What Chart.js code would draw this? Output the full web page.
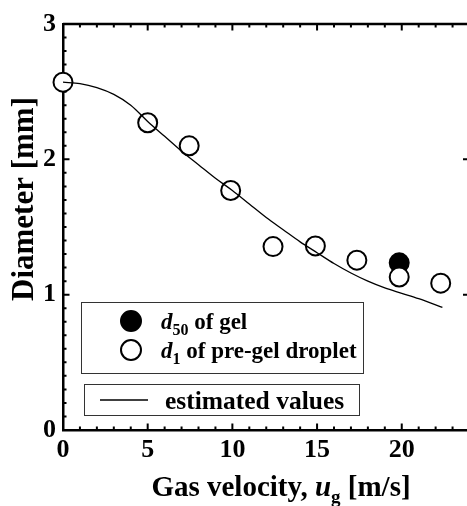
<!DOCTYPE html>
<html lang="en">
<head>
<meta charset="UTF-8">
<title>Diameter vs gas velocity</title>
<script src="https://cdn.jsdelivr.net/npm/chart.js"></script>
<style>
    html, body { margin: 0; padding: 0; overflow: hidden; background: #fff; }
    #wrap { width: 472px; height: 506px; }
</style>
</head>
<body>
<div id="wrap"><canvas id="chart" width="472" height="506"></canvas></div>
<script>
// measured data
const gelVelocity = [19.85];
const gelD50 = [1.235];

const dropVelocity = [0, 5.0, 7.45, 9.9, 12.4, 14.9, 17.35, 19.85, 22.3];
const dropD1 = [2.57, 2.27, 2.10, 1.77, 1.355, 1.36, 1.255, 1.13, 1.085];

// estimated curve
const estVelocity = [0, 1, 2, 3, 4, 5, 6, 7, 8, 9, 10, 11, 12, 13, 14, 15, 16, 17, 18, 19, 20, 21, 22, 22.4];
const estDiameter = [2.57, 2.56, 2.53, 2.48, 2.40, 2.28, 2.17, 2.06, 1.96, 1.86, 1.77, 1.67, 1.57, 1.48, 1.39, 1.31, 1.23, 1.16, 1.10, 1.05, 1.01, 0.97, 0.925, 0.906];

const xTicks = [0, 5, 10, 15, 20];
const yTicks = [0, 1, 2, 3];

const SERIF = "'Liberation Serif', 'Times New Roman', serif";

function pts(xs, ys) {
    return xs.map((v, i) => ({ x: v, y: ys[i] }));
}

// draws a run of text pieces (italic / subscript) starting at x
function richText(ctx, parts, x, y, align) {
    let total = 0;
    parts.forEach(p => { ctx.font = p.font; total += ctx.measureText(p.text).width; });
    let cx = align === 'center' ? x - total / 2 : x;
    ctx.textAlign = 'left';
    ctx.textBaseline = 'alphabetic';
    parts.forEach(p => {
        ctx.font = p.font;
        ctx.fillText(p.text, cx, y + (p.dy || 0));
        cx += ctx.measureText(p.text).width;
    });
}

const framePlugin = {
    id: 'frame',
    beforeDatasetsDraw(chart) {
        const { ctx, chartArea: a, scales: { x, y } } = chart;
        ctx.save();
        ctx.strokeStyle = '#000';
        ctx.lineWidth = 2.5;
        ctx.beginPath();
        ctx.moveTo(a.left, a.top); ctx.lineTo(a.right, a.top);
        ctx.moveTo(a.right, a.top); ctx.lineTo(a.right, a.bottom);
        ctx.stroke();

        ctx.lineWidth = 2;
        ctx.beginPath();
        for (let v = 0; v <= 24; v++) {
            const px = x.getPixelForValue(v);
            const len = v % 5 === 0 ? 6.5 : 3.5;
            ctx.moveTo(px, a.bottom); ctx.lineTo(px, a.bottom - len);
            ctx.moveTo(px, a.top); ctx.lineTo(px, a.top + len);
        }
        for (let i = 0; i <= 30; i++) {
            const py = y.getPixelForValue(i / 10);
            const major = i % 10 === 0;
            const len = major ? 6.5 : 3.5;
            ctx.moveTo(a.left, py); ctx.lineTo(a.left + len, py);
            if (major) { ctx.moveTo(a.right, py); ctx.lineTo(a.right - len, py); }
        }
        ctx.stroke();
        ctx.restore();
    },
    afterDraw(chart) {
        const { ctx } = chart;
        ctx.save();
        ctx.fillStyle = '#000';

        // axis titles
        richText(ctx, [
            { text: 'Gas velocity, ', font: 'bold 29px ' + SERIF },
            { text: 'u', font: 'italic bold 29px ' + SERIF },
            { text: 'g', font: 'bold 19px ' + SERIF, dy: 7 },
            { text: ' [m/s]', font: 'bold 29px ' + SERIF }
        ], 281, 496, 'center');

        ctx.save();
        ctx.translate(33, 199);
        ctx.rotate(-Math.PI / 2);
        ctx.font = 'bold 31px ' + SERIF;
        ctx.textAlign = 'center';
        ctx.textBaseline = 'alphabetic';
        ctx.fillText('Diameter [mm]', 0, 0);
        ctx.restore();

        // legend boxes
        ctx.strokeStyle = '#333';
        ctx.lineWidth = 1;
        ctx.strokeRect(81.5, 302.5, 282, 71);
        ctx.strokeRect(84.5, 384.5, 275, 31);

        ctx.lineWidth = 2;
        ctx.strokeStyle = '#000';
        ctx.beginPath();
        ctx.arc(131, 321, 10, 0, Math.PI * 2);
        ctx.fill();
        ctx.stroke();
        ctx.beginPath();
        ctx.arc(131, 350, 10, 0, Math.PI * 2);
        ctx.stroke();

        ctx.lineWidth = 1.3;
        ctx.beginPath();
        ctx.moveTo(100, 400); ctx.lineTo(148, 400);
        ctx.stroke();

        richText(ctx, [
            { text: 'd', font: 'italic bold 23px ' + SERIF },
            { text: '50', font: 'bold 16px ' + SERIF, dy: 6 },
            { text: ' of gel', font: 'bold 23px ' + SERIF }
        ], 161, 329);
        richText(ctx, [
            { text: 'd', font: 'italic bold 23px ' + SERIF },
            { text: '1', font: 'bold 16px ' + SERIF, dy: 6 },
            { text: ' of pre-gel droplet', font: 'bold 23px ' + SERIF }
        ], 161, 358);
        richText(ctx, [
            { text: 'estimated values', font: 'bold 25.5px ' + SERIF }
        ], 165, 409);
        ctx.restore();
    }
};

new Chart(document.getElementById('chart'), {
    type: 'scatter',
    data: {
        datasets: [
            {
                label: 'estimated values',
                type: 'line',
                data: pts(estVelocity, estDiameter),
                borderColor: '#000',
                borderWidth: 1.3,
                pointRadius: 0,
                fill: false,
                cubicInterpolationMode: 'monotone',
                order: 0,
                clip: false
            },
            {
                label: 'd1 of pre-gel droplet',
                data: pts(dropVelocity, dropD1),
                backgroundColor: '#fff',
                borderColor: '#000',
                borderWidth: 2,
                pointRadius: 9.5,
                order: 1,
                clip: false
            },
            {
                label: 'd50 of gel',
                data: pts(gelVelocity, gelD50),
                backgroundColor: '#000',
                borderColor: '#000',
                borderWidth: 2,
                pointRadius: 9.5,
                order: 2,
                clip: false
            }
        ]
    },
    options: {
        responsive: false,
        animation: false,
        devicePixelRatio: 1,
        layout: { autoPadding: false, padding: { left: 0, top: 24, right: 2.5, bottom: 0 } },
        plugins: { legend: { display: false }, tooltip: { enabled: false } },
        scales: {
            x: {
                type: 'linear',
                min: 0,
                max: 24,
                afterBuildTicks: s => { s.ticks = xTicks.map(v => ({ value: v })); },
                afterFit: s => { s.height = 76; },
                ticks: {
                    color: '#000',
                    padding: 5,
                    maxRotation: 0,
                    font: { family: SERIF, size: 26, weight: 'bold' }
                },
                grid: { display: false, drawTicks: false },
                border: { display: true, color: '#000', width: 2.5 }
            },
            y: {
                type: 'linear',
                min: 0,
                max: 3,
                afterBuildTicks: s => { s.ticks = yTicks.map(v => ({ value: v })); },
                afterFit: s => { s.width = 63; },
                ticks: {
                    color: '#000',
                    padding: 7,
                    font: { family: SERIF, size: 26, weight: 'bold' }
                },
                grid: { display: false, drawTicks: false },
                border: { display: true, color: '#000', width: 2.5 }
            }
        }
    },
    plugins: [framePlugin]
});
</script>
</body>
</html>
